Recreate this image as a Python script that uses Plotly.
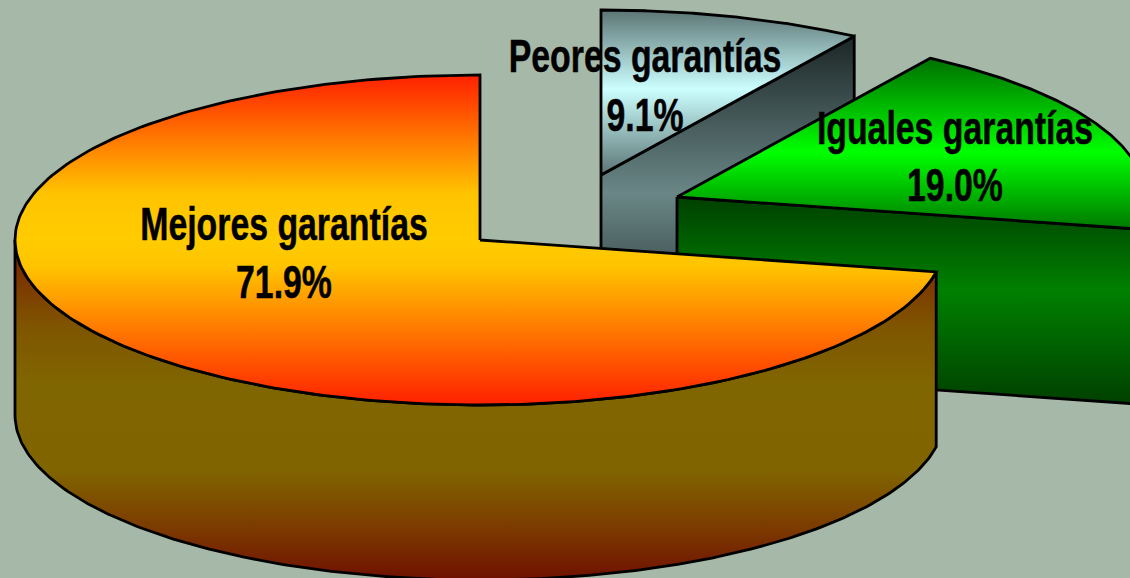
import numpy as np
import plotly.graph_objects as go

categories = ["Mejores garantías", "Peores garantías", "Iguales garantías"]
shares = [71.9, 9.1, 19.0]
value_labels = ["71.9%", "9.1%", "19.0%"]

W, H = 1130, 578
RY, DEPTH = 165, 175
BG = "#a6b8a8"
CENTERS = {"Mejores": (480, 240, 465), "Peores": (601, 175, 468), "Iguales": (677, 197, 468)}
LABEL_POS = [(284, 228, 286), (645, 60, 119), (955, 132, 189)]
NARROW = 0.735

a_worse = 90 - shares[1] * 3.6
a_same = a_worse - shares[2] * 3.6
a_best = 90 + shares[0] * 3.6


def arc(c, a0, a1, n=240):
    t = np.radians(np.linspace(a0, a1, n))
    return c[0] + c[2] * np.cos(t), c[1] - RY * np.sin(t)


def pt(c, a):
    x, y = arc(c, a, a, n=1)
    return float(x[0]), float(y[0])


def poly(fig, x, y, stops, y0, y1):
    fig.add_trace(go.Scatter(
        x=np.r_[x, x[0]], y=np.r_[y, y[0]], mode="lines", fill="toself",
        line=dict(color="#000000", width=2.8), hoverinfo="skip", showlegend=False,
        fillgradient=dict(type="vertical", colorscale=stops, start=y0, stop=y1),
    ))


fig = go.Figure()

# Peores garantias: cut wall, then top
c = CENTERS["Peores"]
px, py = pt(c, a_worse)
poly(fig, [c[0], px, px, c[0]], [c[1], py, py + DEPTH, c[1] + DEPTH],
     [[0, "#1c2626"], [0.5, "#6a8686"], [1, "#1c2626"]], py, c[1] + DEPTH)
ax_, ay_ = arc(c, 90, a_worse)
poly(fig, np.r_[c[0], ax_], np.r_[c[1], ay_],
     [[0, "#5c7474"], [0.48, "#ccffff"], [1, "#5c7474"]], c[1] - RY, c[1])

# Iguales garantias: cut wall, then top
c = CENTERS["Iguales"]
px, py = pt(c, a_same)
poly(fig, [c[0], px, px, c[0]], [c[1], py, py + DEPTH, c[1] + DEPTH],
     [[0, "#004000"], [0.45, "#008000"], [1, "#004000"]], c[1], py + DEPTH)
ax_, ay_ = arc(c, a_worse, a_same)
poly(fig, np.r_[c[0], ax_], np.r_[c[1], ay_],
     [[0, "#007000"], [0.55, "#00ff00"], [1, "#007800"]], pt(c, a_worse)[1], py)

# Mejores garantias: outer wall, then top
c = CENTERS["Mejores"]
tx, ty = arc(c, 180, a_best)
poly(fig, np.r_[tx, tx[::-1]], np.r_[ty, ty[::-1] + DEPTH],
     [[0, "#7a1c00"], [0.25, "#7f5400"], [0.42, "#806600"], [0.68, "#806400"],
      [0.85, "#7c3a00"], [1, "#701000"]], c[1], c[1] + RY + DEPTH)
ax_, ay_ = arc(c, 90, a_best)
poly(fig, np.r_[c[0], ax_], np.r_[c[1], ay_],
     [[0, "#ff2000"], [0.36, "#ffc400"], [0.5, "#ffcc00"], [0.58, "#ffc400"], [1, "#ff2000"]],
     c[1] - RY, c[1] + RY)

font = dict(family="Liberation Sans", size=46, color="#000000", weight="bold")
for name, val, (x, y1, y2) in zip(categories, value_labels, LABEL_POS):
    fig.add_trace(go.Scatter(
        x=[x, x], y=[y1, y2], mode="text", text=[name, val],
        textposition="middle center", textfont=font, hoverinfo="skip", showlegend=False,
        cliponaxis=False,
    ))

fig.update_layout(
    width=W, height=H, autosize=False, margin=dict(l=0, r=0, t=0, b=0),
    paper_bgcolor=BG, plot_bgcolor=BG,
    xaxis=dict(range=[0, W], visible=False),
    yaxis=dict(range=[H, 0], visible=False),
)

post = """
document.body.style.margin = '0';
document.body.style.overflow = 'hidden';
document.body.style.background = '%s';
document.querySelectorAll('.textpoint text').forEach(function (t) {
  t.setAttribute('textLength', t.getComputedTextLength() * %s);
  t.setAttribute('lengthAdjust', 'spacingAndGlyphs');
  t.style.stroke = '#000000';
  t.style.strokeWidth = '0.5px';
});
""" % (BG, NARROW)
fig.write_html("out.html", config={"displayModeBar": False}, post_script=post)
